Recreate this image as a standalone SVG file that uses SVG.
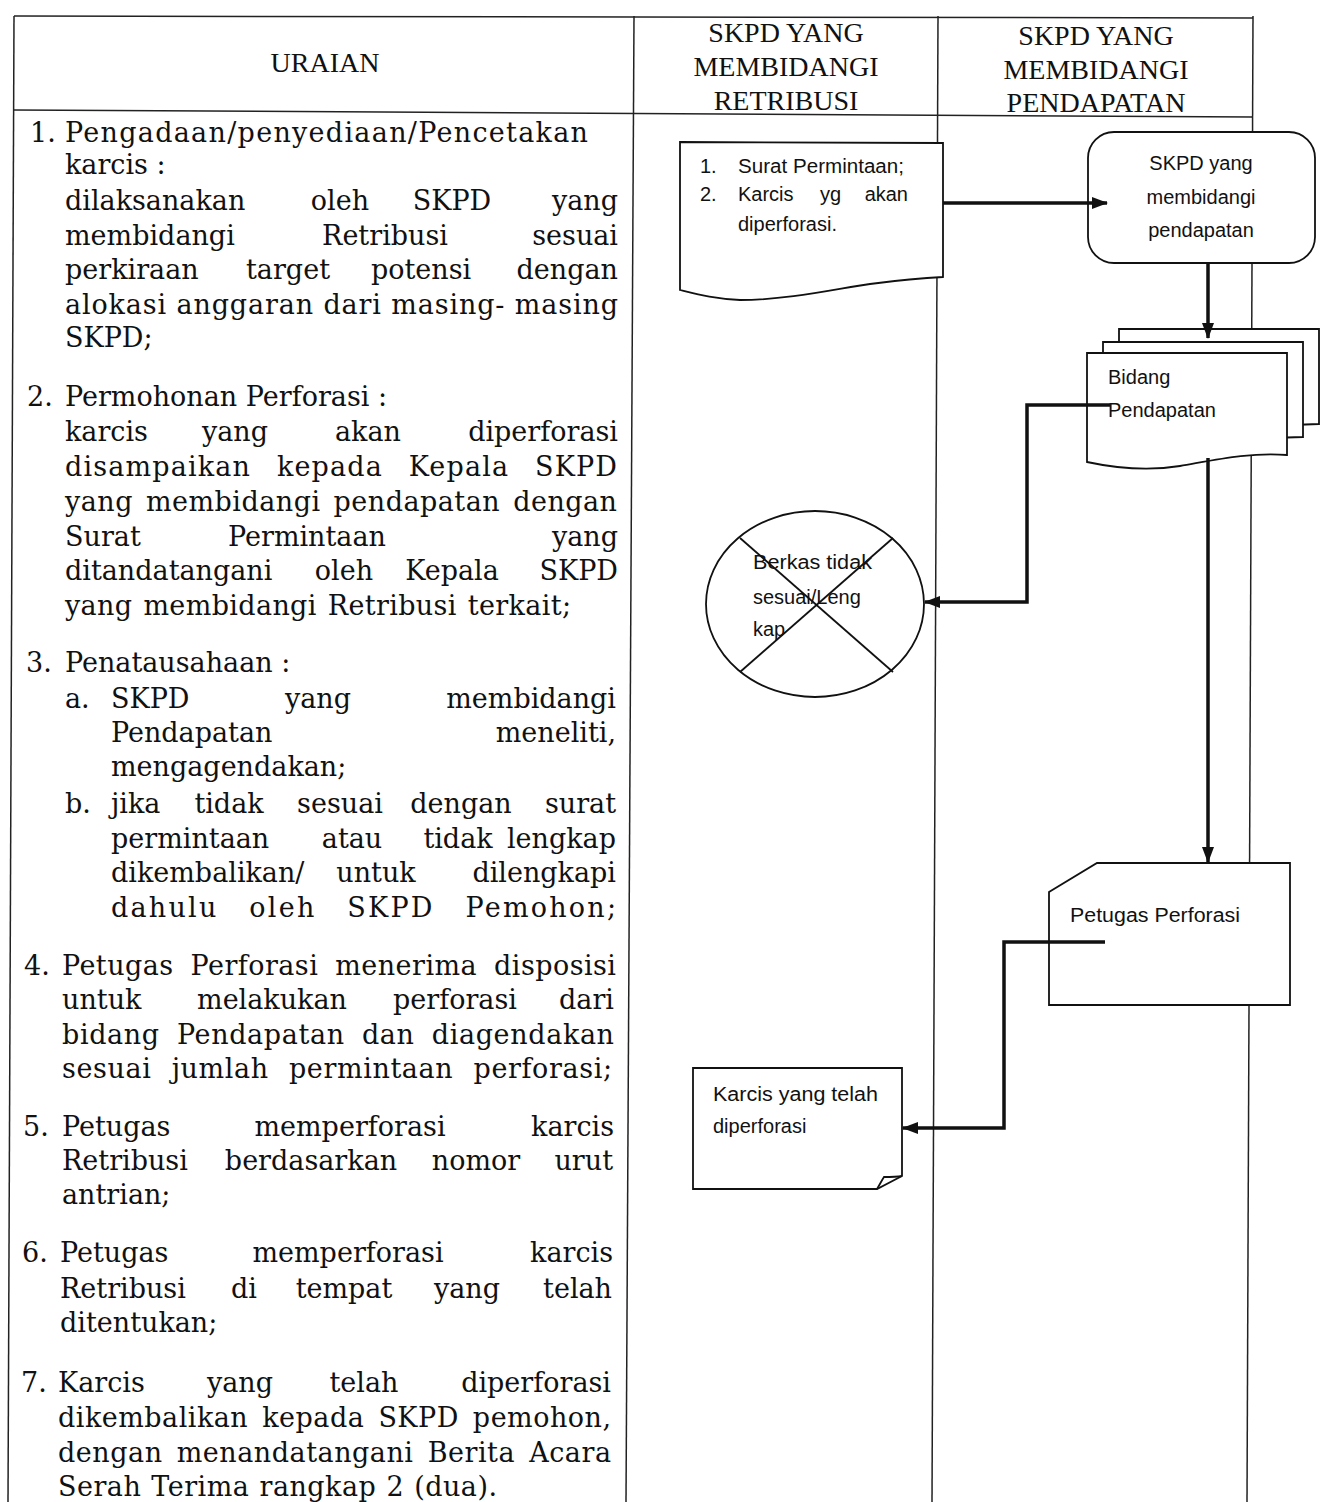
<svg xmlns="http://www.w3.org/2000/svg" width="1324" height="1502" viewBox="0 0 1324 1502">
<style>
.tl{stroke:#222;stroke-width:1.5;fill:none}
.b{font-family:"DejaVu Serif","Liberation Serif",serif;font-size:27px;fill:#111}
.h{font-family:"Liberation Serif",serif;font-size:28px;fill:#111;text-anchor:middle}
.f{font-family:"Liberation Sans",Arial,sans-serif;font-size:20px;fill:#111}
.m{text-anchor:middle}
.e{text-anchor:end}
.sh{fill:#fff;stroke:#111;stroke-width:1.8}
.cn{fill:none;stroke:#111;stroke-width:3.5}
</style>
<defs>
<marker id="ah" viewBox="0 0 16 12" refX="15" refY="6" markerWidth="16" markerHeight="12" markerUnits="userSpaceOnUse" orient="auto"><path d="M0,0 L16,6 L0,12 Z" fill="#111"/></marker>
</defs>
<rect width="1324" height="1502" fill="#fff"/>
<g id="table">
<line class="tl" x1="14" y1="16" x2="1253" y2="18"/>
<line class="tl" x1="14" y1="110" x2="1253" y2="117"/>
<line class="tl" x1="14" y1="16" x2="8" y2="1502"/>
<line class="tl" x1="634" y1="16" x2="626" y2="1502"/>
<line class="tl" x1="938" y1="16" x2="932" y2="1502"/>
<line class="tl" x1="1253" y1="16" x2="1247" y2="1502"/>
</g>
<g id="header">
<text class="h" x="325" y="72">URAIAN</text>
<text class="h" x="786" y="42">SKPD YANG</text>
<text class="h" x="786" y="76">MEMBIDANGI</text>
<text class="h" x="786" y="110">RETRIBUSI</text>
<text class="h" x="1096" y="45">SKPD YANG</text>
<text class="h" x="1096" y="79">MEMBIDANGI</text>
<text class="h" x="1096" y="112">PENDAPATAN</text>
</g>
<g id="uraian">
<text class="b" x="30" y="142">1.</text>
<text class="b" x="65" y="142" textLength="523" lengthAdjust="spacing">Pengadaan/penyediaan/Pencetakan</text>
<text class="b" x="65" y="174">karcis :</text>
<text class="b" x="65" y="210">dilaksanakan</text><text class="b m" x="340" y="210">oleh</text><text class="b m" x="452" y="210">SKPD</text><text class="b e" x="618" y="210">yang</text>
<text class="b" x="65" y="245">membidangi</text><text class="b m" x="385" y="245">Retribusi</text><text class="b e" x="618" y="245">sesuai</text>
<text class="b" x="65" y="279">perkiraan</text><text class="b m" x="288" y="279">target</text><text class="b m" x="421" y="279">potensi</text><text class="b e" x="618" y="279">dengan</text>
<text class="b" x="65" y="314" textLength="553" lengthAdjust="spacing">alokasi anggaran dari masing- masing</text>
<text class="b" x="65" y="347">SKPD;</text>

<text class="b" x="27" y="406">2.</text>
<text class="b" x="65" y="406">Permohonan Perforasi :</text>
<text class="b" x="65" y="441">karcis</text><text class="b m" x="235" y="441">yang</text><text class="b m" x="368" y="441">akan</text><text class="b e" x="618" y="441">diperforasi</text>
<text class="b" x="65" y="476" word-spacing="16" textLength="552" lengthAdjust="spacing">disampaikan kepada Kepala SKPD</text>
<text class="b" x="65" y="511" word-spacing="4" textLength="552" lengthAdjust="spacing">yang membidangi pendapatan dengan</text>
<text class="b" x="65" y="546">Surat</text><text class="b m" x="307" y="546">Permintaan</text><text class="b e" x="618" y="546">yang</text>
<text class="b" x="65" y="580">ditandatangani</text><text class="b m" x="344" y="580">oleh</text><text class="b m" x="452" y="580">Kepala</text><text class="b e" x="618" y="580">SKPD</text>
<text class="b" x="65" y="615" word-spacing="2" textLength="506" lengthAdjust="spacing">yang membidangi Retribusi terkait;</text>

<text class="b" x="26" y="672">3.</text>
<text class="b" x="65" y="672">Penatausahaan :</text>
<text class="b" x="65" y="708">a.</text><text class="b" x="111" y="708">SKPD</text><text class="b m" x="318" y="708">yang</text><text class="b e" x="616" y="708">membidangi</text>
<text class="b" x="111" y="742">Pendapatan</text><text class="b e" x="616" y="742">meneliti,</text>
<text class="b" x="111" y="776">mengagendakan;</text>
<text class="b" x="65" y="813">b.</text><text class="b" x="111" y="813">jika</text><text class="b m" x="229" y="813">tidak</text><text class="b m" x="340" y="813">sesuai</text><text class="b m" x="461" y="813">dengan</text><text class="b e" x="616" y="813">surat</text>
<text class="b" x="111" y="848">permintaan</text><text class="b m" x="352" y="848">atau</text><text class="b m" x="458" y="848">tidak</text><text class="b e" x="616" y="848">lengkap</text>
<text class="b" x="111" y="882">dikembalikan/</text><text class="b m" x="376" y="882">untuk</text><text class="b e" x="616" y="882">dilengkapi</text>
<text class="b" x="111" y="917" word-spacing="20" textLength="505" lengthAdjust="spacing">dahulu oleh SKPD Pemohon;</text>

<text class="b" x="24" y="975">4.</text>
<text class="b" x="62" y="975" word-spacing="8" textLength="554" lengthAdjust="spacing">Petugas Perforasi menerima disposisi</text>
<text class="b" x="62" y="1009">untuk</text><text class="b m" x="272" y="1009">melakukan</text><text class="b m" x="455" y="1009">perforasi</text><text class="b e" x="614" y="1009">dari</text>
<text class="b" x="62" y="1044" word-spacing="8" textLength="552" lengthAdjust="spacing">bidang Pendapatan dan diagendakan</text>
<text class="b" x="62" y="1078" word-spacing="11" textLength="550" lengthAdjust="spacing">sesuai jumlah permintaan perforasi;</text>

<text class="b" x="23" y="1136">5.</text>
<text class="b" x="62" y="1136">Petugas</text><text class="b m" x="350" y="1136">memperforasi</text><text class="b e" x="614" y="1136">karcis</text>
<text class="b" x="62" y="1170">Retribusi</text><text class="b m" x="311" y="1170">berdasarkan</text><text class="b m" x="476" y="1170">nomor</text><text class="b e" x="613" y="1170">urut</text>
<text class="b" x="62" y="1204">antrian;</text>

<text class="b" x="22" y="1262">6.</text>
<text class="b" x="60" y="1262">Petugas</text><text class="b m" x="348" y="1262">memperforasi</text><text class="b e" x="613" y="1262">karcis</text>
<text class="b" x="60" y="1298">Retribusi</text><text class="b m" x="244" y="1298">di</text><text class="b m" x="344" y="1298">tempat</text><text class="b m" x="467" y="1298">yang</text><text class="b e" x="612" y="1298">telah</text>
<text class="b" x="60" y="1332">ditentukan;</text>

<text class="b" x="21" y="1392">7.</text>
<text class="b" x="58" y="1392">Karcis</text><text class="b m" x="240" y="1392">yang</text><text class="b m" x="364" y="1392">telah</text><text class="b e" x="611" y="1392">diperforasi</text>
<text class="b" x="58" y="1427" word-spacing="5" textLength="553" lengthAdjust="spacing">dikembalikan kepada SKPD pemohon,</text>
<text class="b" x="58" y="1462" word-spacing="5" textLength="553" lengthAdjust="spacing">dengan menandatangani Berita Acara</text>
<text class="b" x="58" y="1496" word-spacing="1" textLength="439" lengthAdjust="spacing">Serah Terima rangkap 2 (dua).</text>
</g>

<g id="node-surat">
<path class="sh" d="M680,142 L943,143 L943,277 C920,278 900,280 870,284 C840,288 790,300 740,300 C715,299 700,295 680,290 Z"/>
<text class="f" x="700" y="173" font-size="19">1.</text>
<text class="f" x="738" y="173" font-size="19" textLength="166" lengthAdjust="spacingAndGlyphs">Surat Permintaan;</text>
<text class="f" x="700" y="201" font-size="19">2.</text>
<text class="f" x="738" y="201" font-size="19">Karcis</text><text class="f" x="820" y="201" font-size="19">yg</text><text class="f e" x="908" y="201" font-size="19">akan</text>
<text class="f" x="738" y="231" font-size="19">diperforasi.</text>
</g>

<g id="node-skpd-pendapatan">
<rect class="sh" x="1088" y="132" width="227" height="131" rx="26" ry="26"/>
<text class="f m" x="1201" y="170" font-size="21">SKPD yang</text>
<text class="f m" x="1201" y="204" font-size="21">membidangi</text>
<text class="f m" x="1201" y="237" font-size="21">pendapatan</text>
</g>

<g id="node-bidang-pendapatan">
<path class="sh" d="M1119,329 H1319 V424 C1285,424 1260,430 1230,436 C1190,442 1150,440 1119,434 Z"/>
<path class="sh" d="M1103,342 H1303 V437 C1270,437 1245,443 1215,449 C1175,455 1135,453 1103,447 Z"/>
<path class="sh" d="M1087,353 H1287 V455 C1250,452 1215,460 1180,466 C1150,471 1115,468 1087,462 Z"/>
<text class="f" x="1108" y="384" font-size="21">Bidang</text>
<text class="f" x="1108" y="417" font-size="21">Pendapatan</text>
</g>

<g id="node-berkas">
<ellipse class="sh" cx="815" cy="604" rx="109" ry="93"/>
<line x1="740" y1="538" x2="893" y2="672" stroke="#111" stroke-width="1.8"/>
<line x1="893" y1="538" x2="740" y2="672" stroke="#111" stroke-width="1.8"/>
<text class="f" x="753" y="569" font-size="21" textLength="119" lengthAdjust="spacingAndGlyphs">Berkas tidak</text>
<text class="f" x="753" y="604" font-size="21">sesuai/Leng</text>
<text class="f" x="753" y="636" font-size="21">kap</text>
</g>

<g id="node-petugas">
<path class="sh" d="M1097,863 H1290 V1005 H1049 V892 Z"/>
<text class="f" x="1070" y="922" font-size="21" textLength="170" lengthAdjust="spacingAndGlyphs">Petugas Perforasi</text>
</g>

<g id="node-karcis">
<path class="sh" d="M693,1068 H902 V1176 L877,1189 H693 Z"/>
<path d="M877,1189 C880,1184 882,1180 884,1177 C890,1177 896,1177 902,1176" fill="none" stroke="#111" stroke-width="1.8"/>
<text class="f" x="713" y="1101" font-size="21" textLength="165" lengthAdjust="spacingAndGlyphs">Karcis yang telah</text>
<text class="f" x="713" y="1133" font-size="21">diperforasi</text>
</g>

<g id="connectors">
<path class="cn" d="M943,203 H1107" marker-end="url(#ah)"/>
<path class="cn" d="M1208,263 V338" marker-end="url(#ah)"/>
<path class="cn" d="M1110,405 H1027 V602 H925" marker-end="url(#ah)"/>
<path class="cn" d="M1208,458 V862" marker-end="url(#ah)"/>
<path class="cn" d="M1105,942 H1004 V1128 H903" marker-end="url(#ah)"/>
</g>
</svg>
